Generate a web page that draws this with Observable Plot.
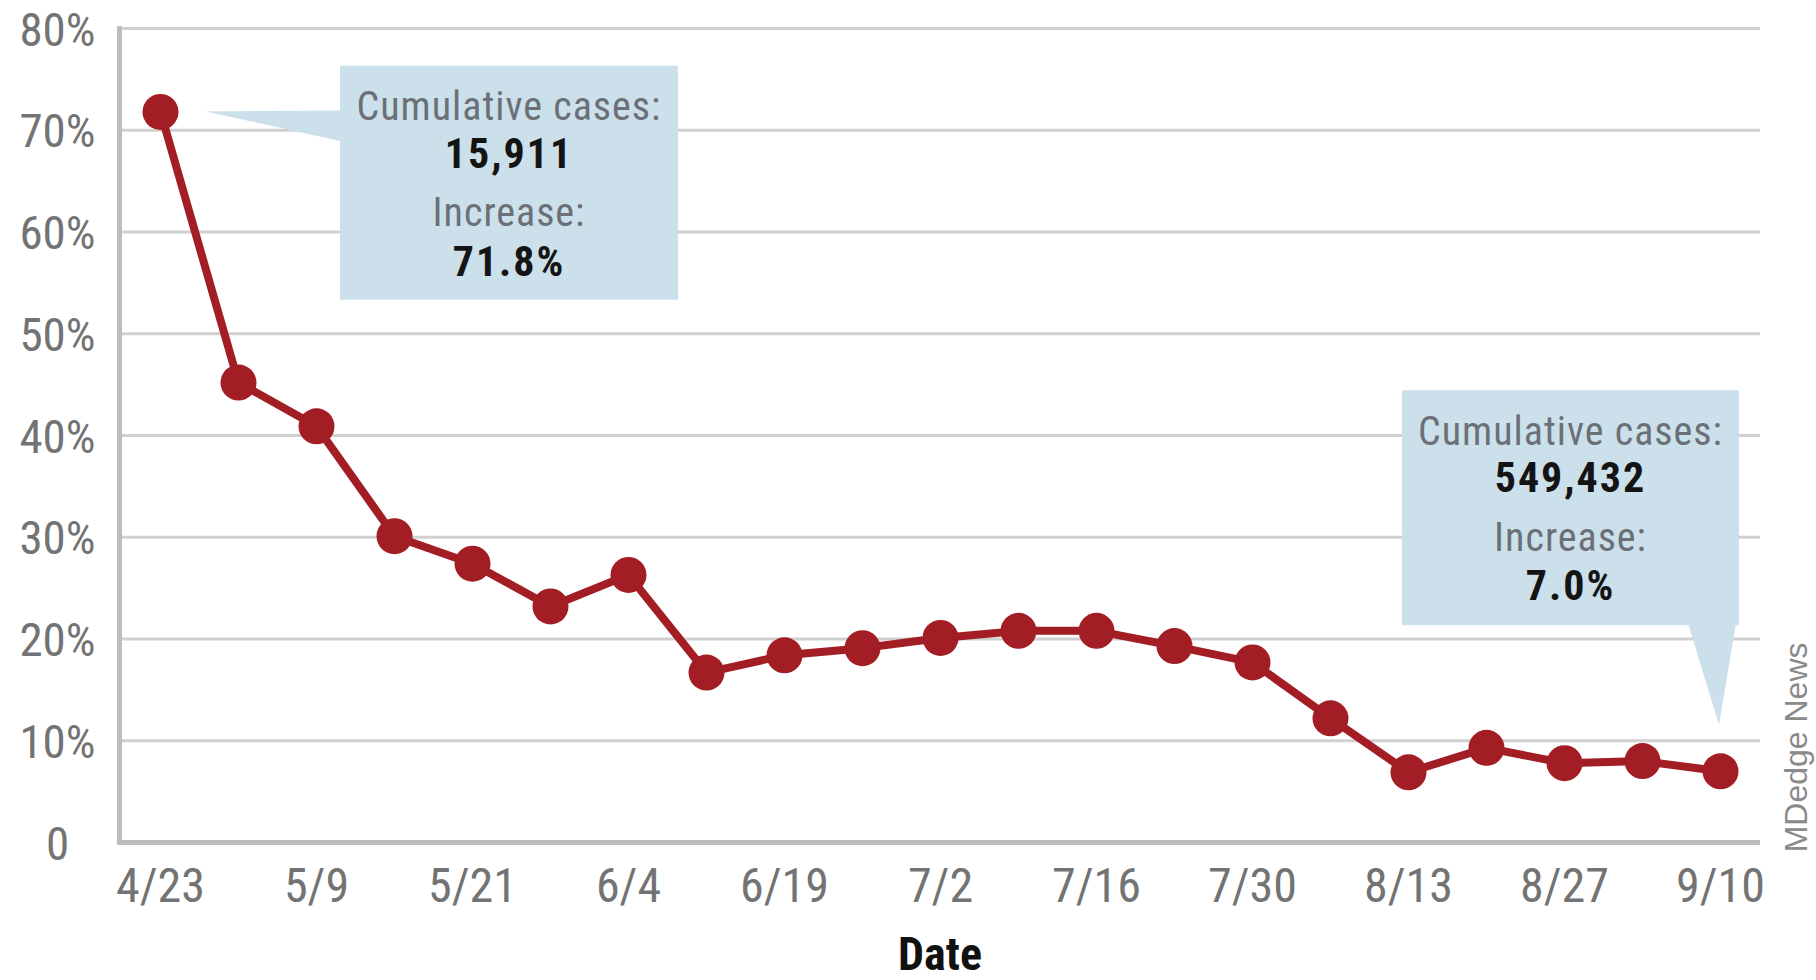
<!DOCTYPE html>
<html>
<head>
<meta charset="utf-8">
<script src="https://cdn.jsdelivr.net/npm/d3@7"></script>
<script src="https://cdn.jsdelivr.net/npm/@observablehq/plot@0.6"></script>
<style>
  html, body { margin: 0; padding: 0; background: #ffffff; }
  #chart svg { display: block; }
</style>
</head>
<body>
<div id="chart"></div>
<script>
// ---- Data ----
const dates = ["4/23","4/30","5/9","5/14","5/21","5/28","6/4","6/11","6/19","6/25","7/2",
               "7/9","7/16","7/23","7/30","8/6","8/13","8/20","8/27","9/3","9/10"];
const increase = [71.8, 45.2, 40.9, 30.1, 27.4, 23.2, 26.3, 16.7, 18.4, 19.1, 20.1,
                  20.8, 20.8, 19.3, 17.7, 12.2, 6.9, 9.3, 7.8, 8.0, 7.0];
const xTickLabels = ["4/23","5/9","5/21","6/4","6/19","7/2","7/16","7/30","8/13","8/27","9/10"];
const yTicks = [0, 10, 20, 30, 40, 50, 60, 70, 80];
const gridValues = [10, 20, 30, 40, 50, 60, 70, 80];
const calloutDates = ["4/23", "9/10"];
const calloutCases = ["15,911", "549,432"];
const calloutIncrease = ["71.8%", "7.0%"];
const calloutLabels = ["Cumulative cases:", "Increase:"];
const xLabel = "Date";
const credit = "MDedge News";

const data = dates.map((d, i) => ({date: d, value: increase[i]}));

const condensed = "'Liberation Sans Narrow', 'Arial Narrow', 'Roboto Condensed', 'Liberation Sans', sans-serif";
const RED = "#a31d24";
const TICKGRAY = "#737373";

const W = 1816, H = 980;

const svg = Plot.plot({
  width: W,
  height: H,
  marginLeft: 119,
  marginRight: 56,
  marginTop: 28,
  marginBottom: 138,
  style: {background: "#ffffff", fontFamily: condensed},
  x: {type: "point", domain: dates, padding: 0.5, axis: null},
  y: {domain: [0, 80], axis: null},
  marks: [
    Plot.ruleY(gridValues, {stroke: "#d0d0d0", strokeWidth: 3}),
    Plot.ruleY([0], {stroke: "#bdbdbd", strokeWidth: 5}),
    Plot.frame({anchor: "left", stroke: "#bdbdbd", strokeWidth: 5}),
    Plot.text(yTicks, {
      y: d => d, frameAnchor: "left", dx: -62, dy: 2,
      text: d => d === 0 ? "0" : d + "%",
      textAnchor: "middle", fontSize: 47, fill: TICKGRAY,
      style: "letter-spacing:3px"
    }),
    Plot.text(xTickLabels, {
      x: d => d, frameAnchor: "bottom", dy: 59,
      text: d => d, textAnchor: "middle", fontSize: 48, fill: TICKGRAY,
      style: "letter-spacing:3.5px"
    }),
    Plot.text([xLabel], {
      frameAnchor: "bottom", dy: 127, text: d => d,
      fontSize: 46, fontWeight: "bold", fill: "#111111"
    }),
    Plot.text([credit], {
      frameAnchor: "bottom-right", dx: 46, dy: -200, rotate: -90,
      text: d => d, fontSize: 32, fill: "#8a8a8a",
      fontFamily: "'Liberation Sans', Arial, sans-serif"
    }),
    Plot.line(data, {x: "date", y: "value", stroke: RED, strokeWidth: 8, strokeLinejoin: "round"}),
    Plot.dot(data, {x: "date", y: "value", r: 18, fill: RED, stroke: "none"})
  ]
});

// ---- Callouts anchored to data points through the plot's scales ----
const sx = svg.scale("x"), sy = svg.scale("y");
const g = d3.select(svg).append("g").attr("class", "callouts");
const BOX = "#cbe0eb";

function textLines(gg, cx, top, cases, inc) {
  const rows = [
    {t: calloutLabels[0], dy: 44, bold: false},
    {t: cases, dy: 91, bold: true},
    {t: calloutLabels[1], dy: 150, bold: false},
    {t: inc, dy: 199, bold: true}
  ];
  rows.forEach(r => {
    gg.append("text")
      .attr("x", cx).attr("y", top + r.dy)
      .attr("text-anchor", "middle").attr("dominant-baseline", "middle")
      .attr("font-family", condensed)
      .attr("font-size", r.bold ? 42 : 40)
      .attr("font-weight", r.bold ? "bold" : "normal")
      .attr("letter-spacing", r.bold ? "2px" : "1px")
      .attr("fill", r.bold ? "#141414" : "#6b7076")
      .text(r.t);
  });
}

// Callout 1 (first point)
{
  const ax = sx.apply(calloutDates[0]), ay = sy.apply(increase[0]);
  const left = ax + 180, right = ax + 518;
  const top = sy.apply(76.3), bottom = sy.apply(53.3);
  g.append("path")
    .attr("d", `M${ax + 46},${ay} L${left + 2},${ay - 1} L${left + 2},${ay + 30} Z`)
    .attr("fill", BOX);
  g.append("rect").attr("x", left).attr("y", top)
    .attr("width", right - left).attr("height", bottom - top).attr("fill", BOX);
  textLines(g, (left + right) / 2, top, calloutCases[0], calloutIncrease[0]);
}
// Callout 2 (last point)
{
  const last = dates.length - 1;
  const ax = sx.apply(calloutDates[1]), ay = sy.apply(increase[last]);
  const left = ax - 318, right = ax + 19;
  const top = sy.apply(44.4), bottom = sy.apply(21.3);
  g.append("rect").attr("x", left).attr("y", top)
    .attr("width", right - left).attr("height", bottom - top).attr("fill", BOX);
  g.append("path")
    .attr("d", `M${ax - 32},${bottom - 2} L${ax + 16},${bottom - 2} L${ax - 1},${ay - 46} Z`)
    .attr("fill", BOX);
  textLines(g, (left + right) / 2, top, calloutCases[1], calloutIncrease[1]);
}

document.getElementById("chart").appendChild(svg);
</script>
</body>
</html>
